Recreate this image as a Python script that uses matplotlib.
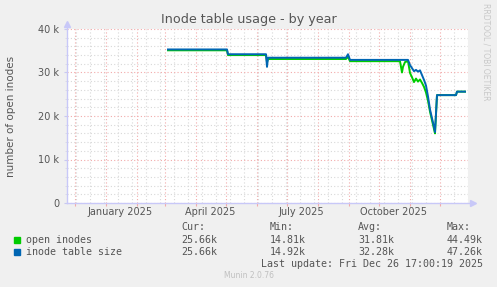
import matplotlib
matplotlib.use("Agg")
import matplotlib.pyplot as plt
import matplotlib.dates as mdates
import matplotlib.transforms as mtransforms
from matplotlib.ticker import FuncFormatter, MultipleLocator, FixedLocator
import pandas as pd

# ---- data ----
open_dates = ["2025-03-04", "2025-05-02", "2025-05-03", "2025-06-10", "2025-06-11",
              "2025-06-12", "2025-08-29", "2025-08-31", "2025-09-02", "2025-10-22",
              "2025-10-24", "2025-10-25", "2025-10-27", "2025-10-30", "2025-11-01",
              "2025-11-03", "2025-11-05", "2025-11-07", "2025-11-09", "2025-11-11",
              "2025-11-13", "2025-11-15", "2025-11-17", "2025-11-19", "2025-11-21",
              "2025-11-23", "2025-11-25", "2025-11-26", "2025-11-28", "2025-12-17",
              "2025-12-18", "2025-12-26"]
open_inodes = [35.1, 35.1, 34.0, 34.0, 32.4,
               33.1, 33.1, 33.6, 32.6, 32.6,
               30.0, 31.3, 32.4, 32.6, 29.9,
               28.9, 27.8, 28.6, 27.9, 28.4,
               27.6, 26.7, 25.4, 23.5, 21.0,
               19.0, 17.0, 16.0, 24.8, 24.8,
               25.6, 25.6]

table_dates = ["2025-03-04", "2025-05-02", "2025-05-03", "2025-06-10", "2025-06-11",
               "2025-06-12", "2025-08-29", "2025-08-31", "2025-09-02", "2025-10-30",
               "2025-11-01", "2025-11-03", "2025-11-05", "2025-11-07", "2025-11-09",
               "2025-11-11", "2025-11-13", "2025-11-15", "2025-11-17", "2025-11-19",
               "2025-11-21", "2025-11-23", "2025-11-25", "2025-11-26", "2025-11-28",
               "2025-12-17", "2025-12-18", "2025-12-26"]
table_size = [35.3, 35.3, 34.2, 34.2, 31.3,
              33.4, 33.4, 34.2, 32.9, 32.9,
              31.7, 31.0, 30.3, 30.6, 30.2,
              30.5, 29.4, 28.3, 27.0, 24.5,
              21.5, 19.5, 17.5, 16.3, 24.8,
              24.8, 25.6, 25.6]

month_labels = ["January 2025", "April 2025", "July 2025", "October 2025"]
label_dates = ["2025-01-15", "2025-04-15", "2025-07-15", "2025-10-15"]

legend_names = ["open inodes", "inode table size"]
legend_colors = ["#00CC00", "#0066B3"]
stat_headers = ["Cur:", "Min:", "Avg:", "Max:"]
stats = [["25.66k", "14.81k", "31.81k", "44.49k"],
         ["25.66k", "14.92k", "32.28k", "47.26k"]]

W, H = 497, 287
BG = "#F0F0F0"
TXT = "#555555"
MONO = "DejaVu Sans Mono"


def fx(px):
    return px / W


def fy(py):
    return 1 - py / H


fig = plt.figure(figsize=(W / 100, H / 100), dpi=100, facecolor=BG)
ax = fig.add_axes([fx(67), fy(203), fx(468) - fx(67), fy(29) - fy(203)])
ax.set_facecolor("white")

x0 = mdates.date2num(pd.Timestamp("2024-11-23"))
x1 = mdates.date2num(pd.Timestamp("2025-12-29"))
ax.set_xlim(x0, x1)
ax.set_ylim(0, 40000)

# grid: red at months / 10k, grey at two weeks / 2k
months = pd.date_range("2024-12-01", "2025-12-01", freq="MS")
biweekly = pd.date_range("2024-12-02", "2025-12-29", freq="14D")
ax.xaxis.set_major_locator(FixedLocator(mdates.date2num(months)))
ax.xaxis.set_minor_locator(FixedLocator(mdates.date2num(biweekly)))
ax.yaxis.set_major_locator(MultipleLocator(10000))
ax.yaxis.set_minor_locator(MultipleLocator(2000))
ax.grid(True, which="minor", color="#D8D8D8", linestyle=(0, (1, 2)), linewidth=0.8)
ax.grid(True, which="major", color="#F2AAAA", linestyle=(0, (1, 2)), linewidth=0.8)
ax.set_axisbelow(True)

ax.yaxis.set_major_formatter(FuncFormatter(lambda v, p: "0" if v == 0 else f"{int(v / 1000)} k"))
ax.xaxis.set_major_formatter(FuncFormatter(lambda v, p: ""))
ax.tick_params(axis="y", which="major", length=2, width=0.8, color="#C8C8F0",
               labelsize=7, labelcolor=TXT, pad=3.5)
ax.tick_params(axis="y", which="minor", length=1.5, width=0.6, color="#D8D8E8")
ax.tick_params(axis="x", which="major", length=2, width=0.8, color="#F2AAAA")
ax.tick_params(axis="x", which="minor", length=0)

for s in ax.spines.values():
    s.set_visible(False)

# axis lines with arrows
axc = "#C8C8F8"
ax.plot([0, 1.012], [0, 0], color=axc, lw=1, transform=ax.transAxes, clip_on=False)
ax.plot([0, 0], [0, 1.03], color=axc, lw=1, transform=ax.transAxes, clip_on=False)
ax.plot([1.012], [0], marker=">", ms=4, color=axc, transform=ax.transAxes, clip_on=False)
ax.plot([0], [1.03], marker="^", ms=4, color=axc, transform=ax.transAxes, clip_on=False)

# series
gd = mdates.date2num(pd.to_datetime(open_dates))
bd = mdates.date2num(pd.to_datetime(table_dates))
ax.plot(gd, [v * 1000 for v in open_inodes], color=legend_colors[0], lw=1.4, zorder=3)
ax.plot(bd, [v * 1000 for v in table_size], color=legend_colors[1], lw=1.4, zorder=4)

# month labels
trans = mtransforms.blended_transform_factory(ax.transData, ax.transAxes)
for lab, d in zip(month_labels, label_dates):
    ax.text(mdates.date2num(pd.Timestamp(d)), -0.052, lab, transform=trans,
            ha="center", va="center", fontsize=7, color=TXT)

ax.set_ylabel("number of open inodes", fontsize=7.5, color=TXT)
ax.yaxis.set_label_coords(-0.127, 0.5)

fig.text(0.5, fy(19), "Inode table usage - by year", ha="center", va="center",
         fontsize=9.2, color=TXT)
fig.text(fx(486), fy(52), "RRDTOOL / TOBI OETIKER", rotation=-90, ha="center",
         va="center", fontsize=5.5, color="#C8C8C8")

# legend block
cols = [181, 270, 358, 447]
for cx, head in zip(cols, stat_headers):
    fig.text(fx(cx), fy(227), head, fontsize=7.2, family=MONO, color=TXT, va="center")
for i, (name, col) in enumerate(zip(legend_names, legend_colors)):
    yy = 240 + i * 12
    fig.patches.append(plt.Rectangle((fx(14), fy(yy + 3)), fx(6), 6 / H,
                                     transform=fig.transFigure, color=col))
    fig.text(fx(26), fy(yy), name, fontsize=7.2, family=MONO, color=TXT, va="center")
    for cx, val in zip(cols, stats[i]):
        fig.text(fx(cx), fy(yy), val, fontsize=7.2, family=MONO, color=TXT, va="center")
fig.text(fx(483), fy(264), "Last update: Fri Dec 26 17:00:19 2025", fontsize=7.2,
         family=MONO, color=TXT, ha="right", va="center")
fig.text(0.5, fy(276), "Munin 2.0.76", fontsize=5.5, color="#C0C0C0",
         ha="center", va="center")

fig.savefig("out.png", dpi=100, facecolor=BG)
